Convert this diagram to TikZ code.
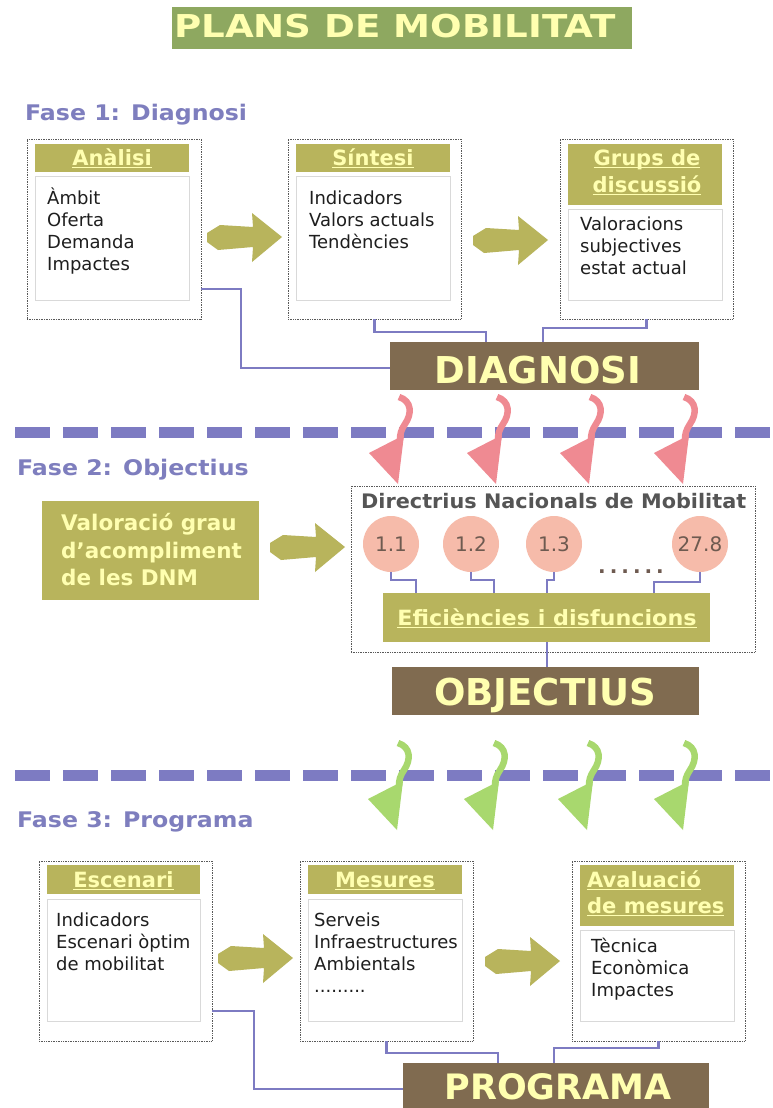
\documentclass[tikz,border=0pt]{standalone}
\usepackage{fontspec}
\setmainfont{DejaVu Sans}
\usepackage{graphicx}
\usetikzlibrary{calc}
\definecolor{olv}{HTML}{B8B45C}
\definecolor{ttlg}{HTML}{8EA860}
\definecolor{brn}{HTML}{806B50}
\definecolor{yel}{HTML}{FFFFB0}
\definecolor{purp}{HTML}{7D7BC2}
\definecolor{fasec}{HTML}{7E7EBE}
\definecolor{pinkc}{HTML}{EF8A92}
\definecolor{peach}{HTML}{F6BBAA}
\definecolor{grnc}{HTML}{A8D86E}
\definecolor{txtc}{HTML}{1E1E1E}
\definecolor{dnmc}{HTML}{555555}
\definecolor{numc}{HTML}{6E5A50}
\newcommand{\myul}[1]{\setbox0\hbox{#1}\rlap{\rule[-3pt]{\wd0}{1.1pt}}\box0}
\newcommand{\boxnode}[6]{\node[#1, minimum width={#4-#2}, minimum height={#5-#3}] (#6) at ({(#2+#4)/2},{(#3+#5)/2}) {};}
\tikzset{
  outerbox/.style={draw=black!65, densely dotted, line width=0.7pt, fill=white, inner sep=0pt, outer sep=0pt},
  hdrbox/.style={fill=olv, inner sep=0pt, outer sep=0pt},
  innerbox/.style={fill=white, draw=black!15, line width=0.7pt, inner sep=0pt, outer sep=0pt},
  bigbox/.style={fill=brn, inner sep=0pt, outer sep=0pt},
  ttlbox/.style={fill=ttlg, inner sep=0pt, outer sep=0pt},
  bodytxt/.style={anchor=base west, inner sep=0pt, font=\fontsize{18}{22}\selectfont, text=txtc},
  hdrtxt/.style={anchor=base, inner sep=0pt, font=\bfseries\fontsize{21}{26}\selectfont, text=yel},
  hdrtxtl/.style={anchor=base west, inner sep=0pt, font=\bfseries\fontsize{21}{26}\selectfont, text=yel},
  fasetxt/.style={anchor=base west, inner sep=0pt, font=\bfseries\fontsize{21.5}{26}\selectfont, text=fasec},
  bigtxt/.style={anchor=base, inner sep=0pt, font=\bfseries\fontsize{37}{40}\selectfont, text=yel},
  valtxt/.style={anchor=base west, inner sep=0pt, font=\bfseries\fontsize{21.5}{26}\selectfont, text=yel},
  numnode/.style={circle, fill=peach, minimum size=56pt, inner sep=0pt, font=\fontsize{20}{24}\selectfont, text=numc},
  conn/.style={draw=purp, line width=2.2pt},
  sepline/.style={draw=purp, line width=11pt, dash pattern=on 35pt off 13pt},
  pics/fatarrow/.style={code={\fill[olv] (0,-4) -- (13,-12) -- (46,-10) -- (45,-24) -- (75,0) -- (45,25) -- (46,10) -- (11,13) -- (0,5) -- cycle;}},
  pics/wig/.style={code={\draw[line width=6.5pt,#1] (1,-87) .. controls (14,-83) and (14,-70) .. (7,-60) .. controls (3,-54) and (2,-50) .. (2,-44);
     \fill[#1] (-29,-31) -- (6,-49) -- (0,0) -- cycle;}},
}
\begin{document}
\begin{tikzpicture}[x=1pt,y=-1pt]
\useasboundingbox (0,0) rectangle (773,1108);
\fill[white] (0,0) rectangle (773,1108);

% title
\boxnode{ttlbox}{172}{7}{632}{49}{ttl}
\node[anchor=base, inner sep=0pt, font=\bfseries\fontsize{31.5}{36}\selectfont, text=yel] (ttltxt) at (395,38) {\scalebox{1.18}[1]{PLANS DE MOBILITAT}};

% separators
\draw[sepline] (15,432) -- (773,432);
\draw[sepline] (15,775) -- (773,775);

% phase labels
\node[fasetxt] (f1) at (25,120) {\scalebox{1.1}[1]{Fase 1: Diagnosi}};
\node[fasetxt] (f2) at (17,475) {\scalebox{1.1}[1]{Fase 2: Objectius}};
\node[fasetxt] (f3) at (17,827) {\scalebox{1.1}[1]{Fase 3: Programa}};

% ===== Phase 1 =====
\boxnode{outerbox}{27}{139}{201}{319}{b1o}
\boxnode{hdrbox}{35}{144}{189}{172}{b1h}
\boxnode{innerbox}{35}{176}{189}{300}{b1i}
\boxnode{outerbox}{288}{139}{461}{319}{b2o}
\boxnode{hdrbox}{296}{144}{450}{172}{b2h}
\boxnode{innerbox}{296}{176}{450}{300}{b2i}
\boxnode{outerbox}{560}{139}{733}{319}{b3o}
\boxnode{hdrbox}{568}{144}{722}{205}{b3h}
\boxnode{innerbox}{568}{209}{722}{300}{b3i}

\node[hdrtxt] (h1) at (112,165) {\myul{Anàlisi}};
\node[hdrtxt] (h2) at (373,165) {\myul{Síntesi}};
\node[hdrtxt] (h3a) at (647,165) {\myul{Grups de}};
\node[hdrtxt] (h3b) at (647,192) {\myul{discussió}};

\node[bodytxt] (t11) at (47,204) {Àmbit};
\node[bodytxt] (t12) at (47,226) {Oferta};
\node[bodytxt] (t13) at (47,248) {Demanda};
\node[bodytxt] (t14) at (47,270) {Impactes};
\node[bodytxt] (t21) at (309,204) {Indicadors};
\node[bodytxt] (t22) at (309,226) {Valors actuals};
\node[bodytxt] (t23) at (309,248) {Tendències};
\node[bodytxt] (t31) at (580,230) {Valoracions};
\node[bodytxt] (t32) at (580,252) {subjectives};
\node[bodytxt] (t33) at (580,274) {estat actual};

\pic at (207,237) {fatarrow};
\pic at (473,240) {fatarrow};

\boxnode{bigbox}{390}{342}{699}{390}{diag}
\node[bigtxt] (diagt) at (538,383) {DIAGNOSI};

\draw[conn] (b1o.east |- 0,289) -- (241,289) -- (241,368) -- (diag.west |- 0,368);
\draw[conn] (b2o.south) -- ++(0,13) -| ($(diag.north)+(-58.5,0)$);
\draw[conn] (b3o.south) -- ++(0,9) -| ($(diag.north)+(-1.5,0)$);

% pink arrows
\foreach \tx in {398,496,589,683} {\pic at (\tx,484) {wig=pinkc};}

% ===== Phase 2 =====
\boxnode{hdrbox}{42}{501}{259}{600}{val}
\node[valtxt] (v1) at (61,530) {Valoració grau};
\node[valtxt] (v2) at (61,558) {d’acompliment};
\node[valtxt] (v3) at (61,585) {de les DNM};
\pic at (270,547) {fatarrow};

\boxnode{outerbox}{351}{486}{755}{652}{dnm}
\node[anchor=base west, inner sep=0pt, font=\bfseries\fontsize{20}{24}\selectfont, text=dnmc] (dnmt) at (361,508) {\scalebox{1.04}[1]{Directrius Nacionals de Mobilitat}};
\node[numnode] (e1) at (391,544) {1.1};
\node[numnode] (e2) at (471,544) {1.2};
\node[numnode] (e3) at (554,544) {1.3};
\node[numnode] (e4) at (700,544) {27.8};
\node[anchor=base west, inner sep=0pt, font=\bfseries\fontsize{20}{24}\selectfont\addfontfeature{LetterSpace=20}, text=numc] (dots) at (598,573) {......};

\boxnode{hdrbox}{383}{593}{710}{642}{eff}
\node[hdrtxt] (efft) at (547,625) {\scalebox{1.06}[1]{\myul{Eficiències i disfuncions}}};

\draw[conn] (e1.south) -- ++(0,8) -| ($(eff.north)+(-130.5,0)$);
\draw[conn] (e2.south) -- ++(0,8) -| ($(eff.north)+(-52.5,0)$);
\draw[conn] (e3.south) -- ++(0,8) -| ($(eff.north)+(0.5,0)$);
\draw[conn] (e4.south) -- ++(0,10) -| ($(eff.north)+(107.5,0)$);

\boxnode{bigbox}{392}{667}{699}{715}{obj}
\node[bigtxt] (objt) at (545,705) {OBJECTIUS};
\draw[conn] (eff.south -| 547,0) -- (obj.north -| 547,0);

% green arrows
\foreach \tx in {397,493,587,683} {\pic at (\tx,830) {wig=grnc};}

% ===== Phase 3 =====
\boxnode{outerbox}{39}{861}{212}{1041}{c1o}
\boxnode{hdrbox}{47}{865}{200}{894}{c1h}
\boxnode{innerbox}{47}{899}{200}{1021}{c1i}
\boxnode{outerbox}{300}{861}{473}{1041}{c2o}
\boxnode{hdrbox}{308}{865}{462}{894}{c2h}
\boxnode{innerbox}{308}{899}{462}{1021}{c2i}
\boxnode{outerbox}{572}{861}{745}{1041}{c3o}
\boxnode{hdrbox}{580}{865}{734}{926}{c3h}
\boxnode{innerbox}{580}{930}{734}{1021}{c3i}

\node[hdrtxt] (k1) at (123.5,887) {\myul{Escenari}};
\node[hdrtxt] (k2) at (385,887) {\myul{Mesures}};
\node[hdrtxtl] (k3a) at (587,887) {\myul{Avaluació}};
\node[hdrtxtl] (k3b) at (587,913) {\myul{de mesures}};

\node[bodytxt] (u11) at (56,926) {Indicadors};
\node[bodytxt] (u12) at (56,948) {Escenari òptim};
\node[bodytxt] (u13) at (56,970) {de mobilitat};
\node[bodytxt] (u21) at (314,926) {Serveis};
\node[bodytxt] (u22) at (314,948) {Infraestructures};
\node[bodytxt] (u23) at (314,970) {Ambientals};
\node[bodytxt] (u24) at (314,992) {.........};
\node[bodytxt] (u31) at (591,952) {Tècnica};
\node[bodytxt] (u32) at (591,974) {Econòmica};
\node[bodytxt] (u33) at (591,996) {Impactes};

\pic at (218,958) {fatarrow};
\pic at (485,961) {fatarrow};

\boxnode{bigbox}{403}{1063}{709}{1108}{prog}
\node[anchor=base, inner sep=0pt, font=\bfseries\fontsize{35}{38}\selectfont, text=yel] (progt) at (558,1099) {PROGRAMA};

\draw[conn] (c1o.east |- 0,1011) -- (254,1011) -- (254,1089) -- (prog.west |- 0,1089);
\draw[conn] (c2o.south) -- ++(0,12) -| ($(prog.north)+(-58,0)$);
\draw[conn] (c3o.south) -- ++(0,7) -| ($(prog.north)+(-2,0)$);
\end{tikzpicture}
\end{document}
